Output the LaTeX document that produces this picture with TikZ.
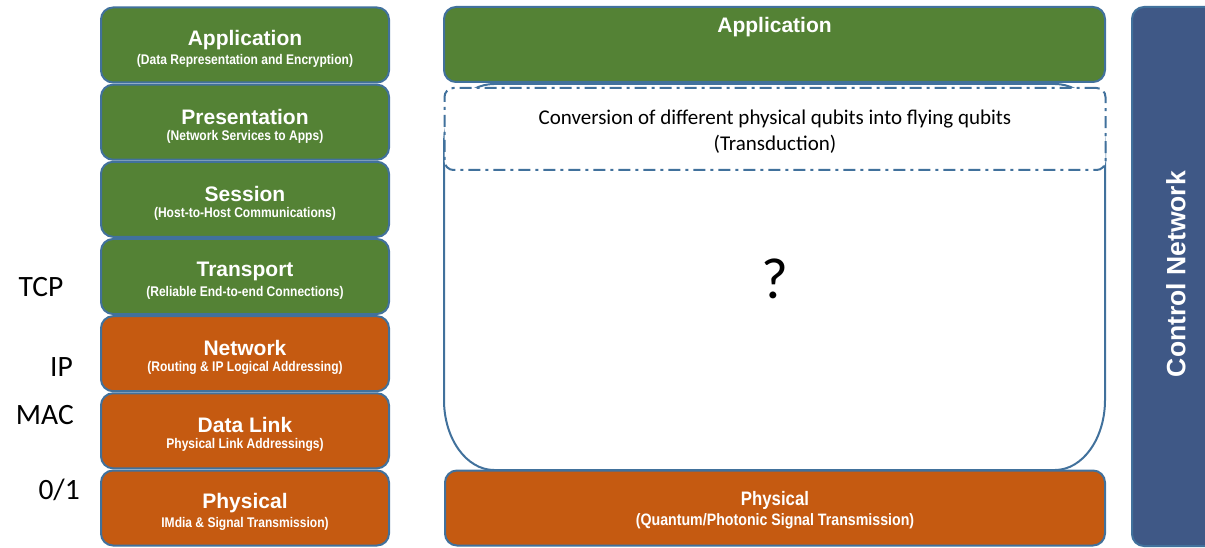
\documentclass[tikz,border=0pt]{standalone}
\usepackage{fontspec}
\setmainfont{Liberation Sans}
\newfontfamily\calfont{Carlito}
\newfontfamily\narrowfont[FakeStretch=0.86]{Liberation Sans}
\definecolor{lgreen}{HTML}{548235}
\definecolor{lorange}{HTML}{C55A11}
\definecolor{lborder}{HTML}{41719C}
\definecolor{lnavy}{HTML}{3F5886}
\tikzset{
  layer/.style={draw=lborder, line width=2pt, rounded corners=12pt, minimum width=288pt, minimum height=75pt, inner sep=0pt},
  greenlayer/.style={layer, fill=lgreen},
  orangelayer/.style={layer, fill=lorange},
  laytext/.style={text=white, align=center, inner sep=0pt},
  ttl/.style={font=\fontsize{21}{24}\selectfont\bfseries},
  side/.style={font=\calfont\fontsize{29.5}{32}\selectfont, inner sep=0pt},
}
\newcommand{\lay}[2]{{\fontsize{21}{24}\selectfont\bfseries #1}\\[4pt]{\narrowfont\fontsize{14}{16}\selectfont\bfseries #2}}
\newcommand{\mklayer}[5]{%
  \node[#2] (#1) at (245,#3) {};
  \node[laytext] (#1-t) at ([yshift=-4pt]#1.center) {\lay{#4}{#5}};}
\begin{document}
\begin{tikzpicture}[x=1pt,y=-1pt]
\useasboundingbox (0,0) rectangle (1205,548);
\clip (0,0) rectangle (1205,548);
% left stack
\mklayer{app}{greenlayer}{45}{Application}{(Data Representation and Encryption)}
\mklayer{pres}{greenlayer}{122.2}{Presentation}{(Network Services to Apps)}
\mklayer{sess}{greenlayer}{199.3}{Session}{(Host-to-Host Communications)}
\mklayer{trans}{greenlayer}{276.5}{Transport}{(Reliable End-to-end Connections)}
\mklayer{net}{orangelayer}{353.7}{Network}{(Routing \& IP Logical Addressing)}
\mklayer{dl}{orangelayer}{430.8}{Data Link}{Physical Link Addressings)}
\mklayer{phy}{orangelayer}{508}{Physical}{IMdia \& Signal Transmission)}
% side labels
\node[side] (tcp) at (41,287) {TCP};
\node[side, anchor=east] (ip) at (73,367) {IP};
\node[side, anchor=east] (mac) at (74,415) {MAC};
\node[side, anchor=east] (bit) at (80,490) {0/1};
% right stack: open middle box
\draw[draw=lborder, line width=2pt, fill=white]
  (444,144) -- (444,400) .. controls (444,438.6) and (466.4,470) .. (494,470)
  -- (1055,470) .. controls (1082.6,470) and (1105,438.6) .. (1105,400)
  -- (1105,144) .. controls (1105,110.9) and (1082.6,84) .. (1055,84)
  -- (494,84) .. controls (466.4,84) and (444,110.9) .. (444,144) -- cycle;
\node[font=\calfont\fontsize{58}{60}\selectfont, inner sep=0pt] (qm) at (775,279) {?};
\node[draw=lborder, fill=white, line width=2pt, rounded corners=9pt, dash pattern=on 12pt off 5pt on 3pt off 5pt, minimum width=661pt, minimum height=82pt, inner sep=0pt] (trd) at (775,129) {};
\node[align=center, inner sep=0pt, font=\calfont\fontsize{21}{26}\selectfont] (trdt) at (775,131.5) {Conversion of different physical qubits into flying qubits\\(Transduction)};
\node[draw=lborder, line width=2pt, rounded corners=12pt, fill=lgreen, minimum width=661pt, minimum height=75pt, inner sep=0pt] (rapp) at (774.5,44.5) {};
\node[ttl, text=white] (rappt) at ([yshift=-21pt]rapp.north) {Application};
\node[layer, fill=lorange, minimum width=660pt] (rphy) at (775,508) {};
\node[laytext] (rphyt) at ([yshift=-2pt]rphy.center) {{\narrowfont\fontsize{19.5}{22}\selectfont\bfseries Physical}\\[3pt]{\narrowfont\fontsize{16.5}{19}\selectfont\bfseries (Quantum/Photonic Signal Transmission)}};
% control network
\node[draw=lborder, line width=2pt, rounded corners=12pt, fill=lnavy, minimum width=100pt, minimum height=539pt, inner sep=0pt] (ctrl) at (1182,276.5) {};
\node[rotate=90, text=white, font=\fontsize{26.5}{30}\selectfont\bfseries, inner sep=0pt] (ctrlt) at (1176,274) {Control Network};
\end{tikzpicture}
\end{document}
